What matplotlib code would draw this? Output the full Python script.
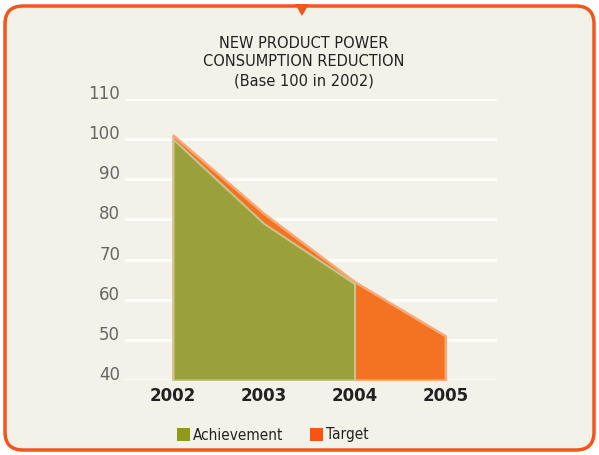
import matplotlib.pyplot as plt
from matplotlib.patches import FancyBboxPatch, Polygon, Rectangle

years = ["2002", "2003", "2004", "2005"]
achievement = [100, 79, 64]
target = [101, 81.5, 64.5, 51]
y_ticks = [40, 50, 60, 70, 80, 90, 100, 110]

bg = "#f3f2e8"
green = "#9aa13a"
green_edge = "#c9c48c"
orange = "#f47322"
orange_edge = "#f9a878"
border = "#f2561d"

fig = plt.figure(figsize=(5.99, 4.55), dpi=100)
fig.patch.set_facecolor("white")

# rounded frame with a small notch on top
frame = FancyBboxPatch((5 / 599, 5 / 455), 589 / 599, 444 / 455,
                       boxstyle="round,pad=0,rounding_size=0.03",
                       transform=fig.transFigure, facecolor=bg,
                       edgecolor=border, linewidth=2.5, mutation_aspect=599 / 455,
                       zorder=-10)
fig.patches.append(frame)
tri = Polygon([(295 / 599, 1 - 4 / 455), (309 / 599, 1 - 4 / 455), (302 / 599, 1 - 16 / 455)],
              closed=True, transform=fig.transFigure, facecolor=border, edgecolor="none",
              zorder=-9)
fig.patches.append(tri)

ax = fig.add_axes([125 / 599, 75 / 455, 372 / 599, 281 / 455])
ax.set_facecolor("none")

x_all = list(range(len(years)))
ax.fill_between(x_all, 40, target, facecolor=orange, edgecolor=orange_edge,
                linewidth=1.8, zorder=3)
ax.fill_between(x_all[:len(achievement)], 40, achievement, facecolor=green,
                edgecolor=green_edge, linewidth=1.5, zorder=4)

ax.set_xlim(-0.53, 3.57)
ax.set_ylim(40, 110)
ax.set_yticks(y_ticks)
ax.set_xticks(x_all)
ax.set_xticklabels(years, fontsize=12, fontweight="bold", color="#222222")
ax.tick_params(axis="y", labelsize=12, labelcolor="#666666", length=0, pad=3.5)
ax.tick_params(axis="x", length=0, pad=5)
for lbl in ax.get_yticklabels():
    lbl.set_verticalalignment("baseline")
ax.grid(axis="y", color="white", linewidth=2, zorder=1)
ax.set_axisbelow(True)
for s in ax.spines.values():
    s.set_visible(False)

fig.text(304 / 599, 1 - 62 / 455, "NEW PRODUCT POWER\nCONSUMPTION REDUCTION\n(Base 100 in 2002)",
         ha="center", va="center", fontsize=10.5, color="#222222", linespacing=1.3)

# legend
leg_y = 1 - 435 / 455
fig.patches.append(Rectangle((177 / 599, leg_y - 6 / 455), 13 / 599, 13 / 455,
                             transform=fig.transFigure, facecolor="#8f9a1c", edgecolor="none"))
fig.text(193 / 599, leg_y, "Achievement", fontsize=11, va="center",
         fontstretch="condensed", color="#222222")
fig.patches.append(Rectangle((310 / 599, leg_y - 6 / 455), 13 / 599, 13 / 455,
                             transform=fig.transFigure, facecolor="#fb5313", edgecolor="none"))
fig.text(326 / 599, leg_y, "Target", fontsize=11, va="center",
         fontstretch="condensed", color="#222222")

fig.savefig("out.png", dpi=100, facecolor=fig.get_facecolor())
